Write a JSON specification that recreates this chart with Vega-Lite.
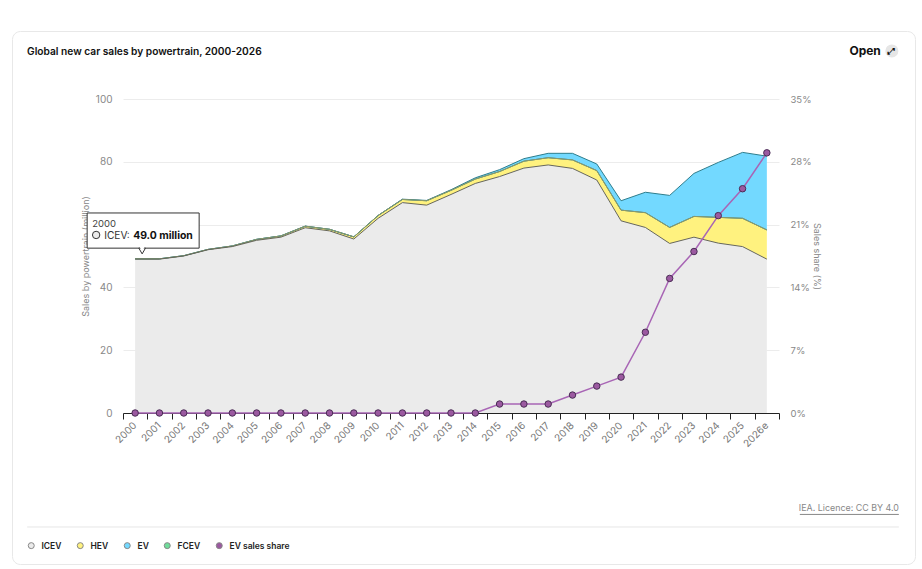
{
  "$schema": "https://vega.github.io/schema/vega-lite/v6.json",
  "width": 903,
  "height": 533,
  "autosize": "none",
  "padding": {"left": 12, "top": 31, "right": 7, "bottom": 5},
  "background": "#ffffff",
  "title": {
    "text": "Global new car sales by powertrain, 2000-2026",
    "anchor": "start",
    "frame": "group",
    "dx": 15,
    "offset": -26,
    "font": "Inter",
    "fontSize": 10.2,
    "fontWeight": 600,
    "color": "#111111"
  },
  "config": {
    "font": "Inter",
    "view": {"stroke": "#e8e8e8", "cornerRadius": 8, "fill": "#ffffff"}
  },
  "data": {
    "values": [
      {"year": "2000", "ICEV": 49, "HEV": 0.1, "EV": 0, "FCEV": 0, "share": 0},
      {"year": "2001", "ICEV": 49, "HEV": 0.1, "EV": 0, "FCEV": 0, "share": 0},
      {"year": "2002", "ICEV": 50, "HEV": 0.1, "EV": 0, "FCEV": 0, "share": 0},
      {"year": "2003", "ICEV": 52, "HEV": 0.1, "EV": 0, "FCEV": 0, "share": 0},
      {"year": "2004", "ICEV": 53, "HEV": 0.2, "EV": 0, "FCEV": 0, "share": 0},
      {"year": "2005", "ICEV": 55, "HEV": 0.3, "EV": 0, "FCEV": 0, "share": 0},
      {"year": "2006", "ICEV": 56, "HEV": 0.4, "EV": 0, "FCEV": 0, "share": 0},
      {"year": "2007", "ICEV": 59, "HEV": 0.5, "EV": 0, "FCEV": 0, "share": 0},
      {"year": "2008", "ICEV": 58, "HEV": 0.5, "EV": 0, "FCEV": 0, "share": 0},
      {"year": "2009", "ICEV": 55.4, "HEV": 0.7, "EV": 0, "FCEV": 0, "share": 0},
      {"year": "2010", "ICEV": 62, "HEV": 0.9, "EV": 0, "FCEV": 0, "share": 0},
      {"year": "2011", "ICEV": 67, "HEV": 1, "EV": 0.1, "FCEV": 0, "share": 0},
      {"year": "2012", "ICEV": 66.2, "HEV": 1.4, "EV": 0.1, "FCEV": 0, "share": 0},
      {"year": "2013", "ICEV": 69.6, "HEV": 1.3, "EV": 0.2, "FCEV": 0, "share": 0},
      {"year": "2014", "ICEV": 73.1, "HEV": 1.4, "EV": 0.4, "FCEV": 0, "share": 0},
      {"year": "2015", "ICEV": 75.3, "HEV": 1.6, "EV": 0.6, "FCEV": 0, "share": 1},
      {"year": "2016", "ICEV": 78, "HEV": 2.2, "EV": 0.8, "FCEV": 0, "share": 1},
      {"year": "2017", "ICEV": 79, "HEV": 2.3, "EV": 1.4, "FCEV": 0, "share": 1},
      {"year": "2018", "ICEV": 77.9, "HEV": 2.7, "EV": 2.1, "FCEV": 0, "share": 2},
      {"year": "2019", "ICEV": 74.2, "HEV": 3, "EV": 2.1, "FCEV": 0, "share": 3},
      {"year": "2020", "ICEV": 61.2, "HEV": 3.4, "EV": 3, "FCEV": 0, "share": 4},
      {"year": "2021", "ICEV": 59.1, "HEV": 4.7, "EV": 6.5, "FCEV": 0, "share": 9},
      {"year": "2022", "ICEV": 54, "HEV": 5.1, "EV": 10.2, "FCEV": 0, "share": 15},
      {"year": "2023", "ICEV": 56, "HEV": 6.6, "EV": 13.7, "FCEV": 0, "share": 18},
      {"year": "2024", "ICEV": 54.1, "HEV": 8.2, "EV": 17.5, "FCEV": 0, "share": 22},
      {"year": "2025", "ICEV": 53, "HEV": 9, "EV": 21, "FCEV": 0, "share": 25},
      {"year": "2026e", "ICEV": 49, "HEV": 9.3, "EV": 23.5, "FCEV": 0, "share": 29}
    ]
  },
  "encoding": {
    "x": {
      "field": "year",
      "type": "ordinal",
      "title": null,
      "scale": {
        "type": "band",
        "domain": ["2000","2001","2002","2003","2004","2005","2006","2007","2008","2009","2010","2011","2012","2013","2014","2015","2016","2017","2018","2019","2020","2021","2022","2023","2024","2025","2026e"],
        "range": [111, 767],
        "paddingInner": 0,
        "paddingOuter": 0
      },
      "axis": {
        "orient": "bottom",
        "offset": -151,
        "tickBand": "extent",
        "tickSize": 6,
        "tickColor": "#222222",
        "domainColor": "#222222",
        "labelAngle": -45,
        "labelAlign": "right",
        "labelBaseline": "top",
        "labelColor": "#777777",
        "labelFontSize": 10,
        "labelPadding": 1,
        "labelOffset": -4,
        "grid": false
      }
    }
  },
  "layer": [
    {
      "transform": [
        {"fold": ["EV", "FCEV", "HEV", "ICEV"], "as": ["type", "value"]},
        {"stack": "value", "groupby": ["year"], "sort": [{"field": "type", "order": "descending"}], "as": ["y0", "y1"]}
      ],
      "layer": [
        {
          "mark": {"type": "area", "opacity": 1},
          "encoding": {
            "y": {
              "field": "y1",
              "type": "quantitative",
              "title": "Sales by powertrain (million)",
              "scale": {"domain": [0, 100], "range": [382, 68], "nice": false},
              "axis": {
                "orient": "left",
                "offset": -111,
                "values": [0, 20, 40, 60, 80, 100],
                "domain": false,
                "ticks": false,
                "grid": true,
                "gridColor": "#ececec",
                "labelColor": "#888888",
                "labelFontSize": 10,
                "labelPadding": 11,
                "titleColor": "#888888",
                "titleFontSize": 9,
                "titleFontWeight": 400,
                "titlePadding": 5
              }
            },
            "y2": {"field": "y0"},
            "color": {
              "field": "type",
              "type": "nominal",
              "scale": {
                "domain": ["ICEV", "HEV", "EV", "FCEV", "EV sales share"],
                "range": ["#ebebeb", "#fff27f", "#73d9ff", "#6fdc9a", "#9b59a0"]
              },
              "legend": {
                "title": null,
                "orient": "none",
                "direction": "horizontal",
                "columns": 5,
                "legendX": 15,
                "legendY": 510,
                "symbolType": "circle",
                "symbolSize": 36,
                "symbolStrokeColor": "#888888",
                "symbolStrokeWidth": 1,
                "symbolOpacity": 1,
                "labelFont": "Inter",
                "labelFontSize": 8.5,
                "labelFontWeight": 600,
                "labelColor": "#222222",
                "labelOffset": 6,
                "columnPadding": 13
              }
            }
          }
        },
        {
          "mark": {"type": "line", "strokeWidth": 1},
          "encoding": {
            "y": {"field": "y1", "type": "quantitative"},
            "stroke": {
              "field": "type",
              "type": "nominal",
              "legend": null,
              "scale": {
                "domain": ["ICEV", "HEV", "FCEV", "EV"],
                "range": ["#66665a", "#8f9b6a", "#2e7d8c", "#2e7d8c"]
              }
            }
          }
        },
        {
          "data": {"values": [{"year": "2000", "y": 63.7, "y2": 52.5}]},
          "mark": {"type": "rect", "width": 112, "xOffset": 8, "fill": "#ffffff", "stroke": "#333333", "strokeWidth": 1},
          "encoding": {"y": {"field": "y", "type": "quantitative"}, "y2": {"field": "y2"}}
        },
        {
          "data": {"values": [{"year": "2000", "y": 51.6}]},
          "mark": {"type": "point", "shape": "triangle-down", "size": 45, "xOffset": 7, "filled": true, "fill": "#ffffff", "stroke": "#333333", "strokeWidth": 1, "opacity": 1},
          "encoding": {"y": {"field": "y", "type": "quantitative"}}
        },
        {
          "data": {"values": [{"year": "2000", "y": 52.3}]},
          "mark": {"type": "point", "shape": "triangle-down", "size": 30, "xOffset": 7, "filled": true, "fill": "#ffffff", "strokeWidth": 0, "opacity": 1},
          "encoding": {"y": {"field": "y", "type": "quantitative"}}
        },
        {
          "data": {"values": [{"year": "2000", "y": 56.7}]},
          "mark": {"type": "point", "shape": "circle", "size": 55, "xOffset": -39, "filled": true, "fill": "#ebebeb", "stroke": "#333333", "strokeWidth": 1, "opacity": 1},
          "encoding": {"y": {"field": "y", "type": "quantitative"}}
        },
        {
          "data": {"values": [{"year": "2000", "y": 60.2, "label": "2000"}]},
          "mark": {"type": "text", "align": "left", "dx": -43, "fontSize": 9.5, "color": "#444444"},
          "encoding": {"y": {"field": "y", "type": "quantitative"}, "text": {"field": "label"}}
        },
        {
          "data": {"values": [{"year": "2000", "y": 56.7, "label": "ICEV:"}]},
          "mark": {"type": "text", "align": "left", "dx": -31, "dy": 1, "fontSize": 10.2, "color": "#333333"},
          "encoding": {"y": {"field": "y", "type": "quantitative"}, "text": {"field": "label"}}
        },
        {
          "data": {"values": [{"year": "2000", "y": 56.7, "label": "49.0 million"}]},
          "mark": {"type": "text", "align": "left", "dx": -2, "dy": 1, "fontSize": 10.4, "fontWeight": 700, "color": "#111111"},
          "encoding": {"y": {"field": "y", "type": "quantitative"}, "text": {"field": "label"}}
        },
        {
          "data": {"values": [{"year": "2026e", "y": 115.3, "label": "Open"}]},
          "mark": {"type": "text", "align": "right", "dx": 114, "fontSize": 12, "fontWeight": 700, "color": "#111111"},
          "encoding": {"y": {"field": "y", "type": "quantitative"}, "text": {"field": "label"}}
        },
        {
          "data": {"values": [{"year": "2026e", "y": 115.3}]},
          "mark": {"type": "point", "shape": "circle", "size": 170, "xOffset": 125, "filled": true, "fill": "#e6e6e6", "strokeWidth": 0, "opacity": 1},
          "encoding": {"y": {"field": "y", "type": "quantitative"}}
        },
        {
          "data": {"values": [{"year": "2026e", "y": 115.3, "label": "⤢"}]},
          "mark": {"type": "text", "font": "DejaVu Sans", "dx": 125, "fontSize": 9, "fontWeight": 700, "color": "#111111"},
          "encoding": {"y": {"field": "y", "type": "quantitative"}, "text": {"field": "label"}}
        },
        {
          "data": {"values": [{"year": "2026e", "y": -30.3, "label": "IEA. Licence: CC BY 4.0"}]},
          "mark": {"type": "text", "align": "right", "dx": 132, "fontSize": 8.9, "color": "#888888"},
          "encoding": {"y": {"field": "y", "type": "quantitative"}, "text": {"field": "label"}}
        },
        {
          "data": {"values": [{"year": "2026e", "y": -32.3}]},
          "mark": {"type": "rule", "xOffset": 33, "x2Offset": 132, "stroke": "#888888", "strokeWidth": 1},
          "encoding": {"y": {"field": "y", "type": "quantitative"}, "x2": {"datum": "2026e"}}
        },
        {
          "data": {"values": [{"year": "2000", "y": -36.3}]},
          "mark": {"type": "rule", "xOffset": -108, "x2Offset": 132, "stroke": "#e6e6e6", "strokeWidth": 1},
          "encoding": {"y": {"field": "y", "type": "quantitative"}, "x2": {"datum": "2026e"}}
        }
      ]
    },
    {
      "layer": [
        {
          "mark": {"type": "line", "color": "#a865b5", "strokeWidth": 1.5},
          "encoding": {
            "y": {
              "field": "share",
              "type": "quantitative",
              "title": "Sales share (%)",
              "scale": {"domain": [0, 35], "range": [382, 68], "nice": false},
              "axis": {
                "orient": "right",
                "offset": -136,
                "values": [0, 7, 14, 21, 28, 35],
                "labelExpr": "datum.value + '%'",
                "domain": false,
                "ticks": false,
                "grid": false,
                "labelColor": "#888888",
                "labelFontSize": 9.5,
                "labelPadding": 11,
                "titleColor": "#888888",
                "titleFontSize": 9,
                "titleFontWeight": 400,
                "titlePadding": 1
              }
            }
          }
        },
        {
          "mark": {"type": "point", "shape": "circle", "filled": true, "fill": "#9b59a0", "stroke": "#4a2d55", "strokeWidth": 1, "size": 42, "opacity": 1},
          "encoding": {"y": {"field": "share", "type": "quantitative"}}
        }
      ]
    }
  ],
  "resolve": {"scale": {"y": "independent", "color": "independent", "stroke": "independent"}}
}
